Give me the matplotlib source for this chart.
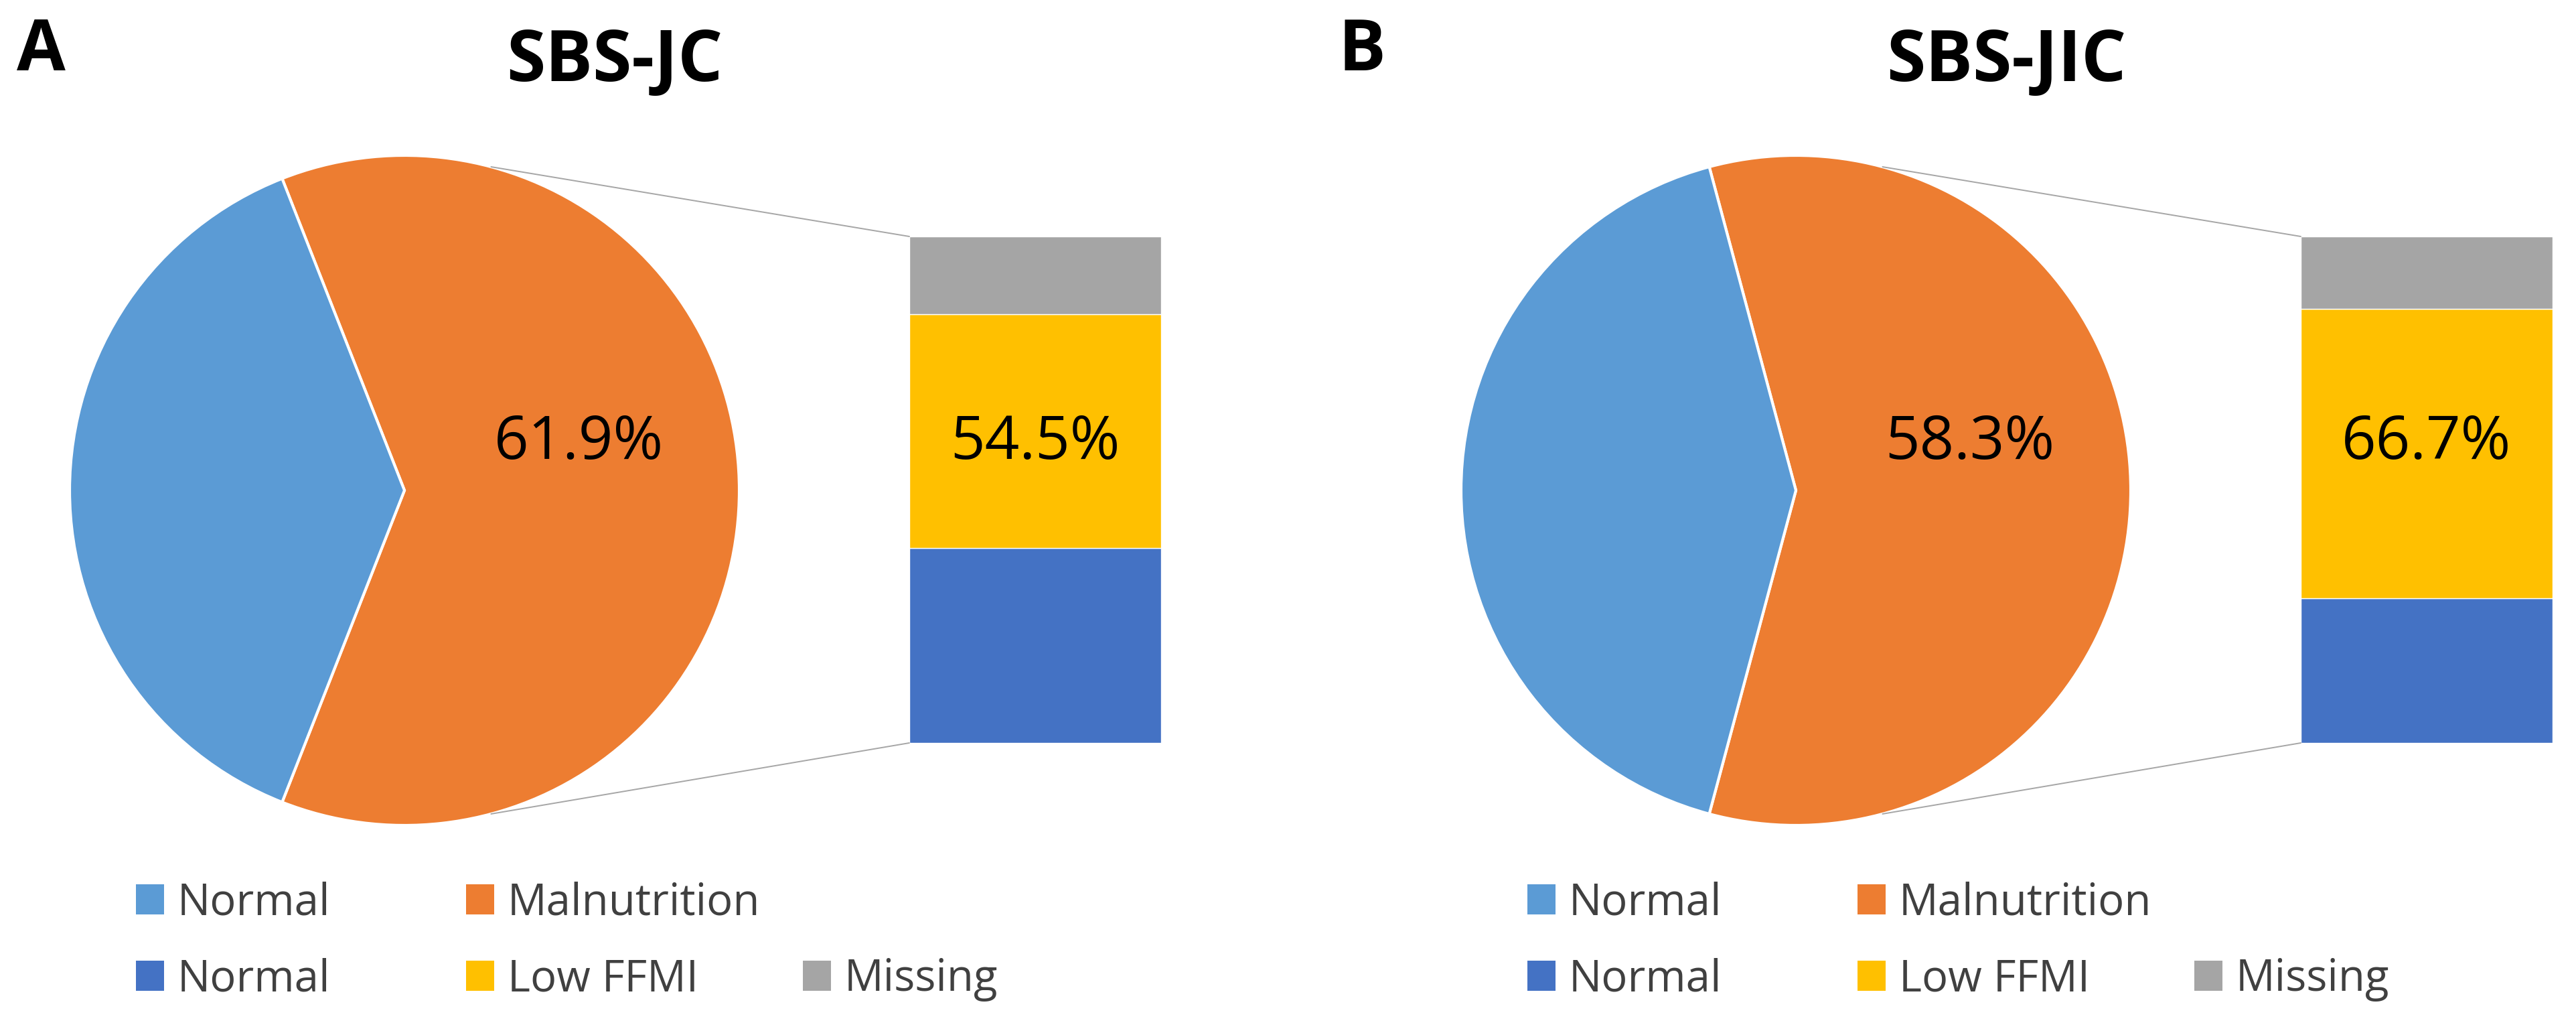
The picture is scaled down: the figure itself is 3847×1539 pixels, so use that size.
import numpy as np
import matplotlib
matplotlib.use("Agg")
import matplotlib.pyplot as plt
from matplotlib.patches import Patch, ConnectionPatch

plt.rcParams["font.family"] = ["Open Sans", "DejaVu Sans"]

# ---------- data ----------
panel_letters = ["A", "B"]
titles = ["SBS-JC", "SBS-JIC"]
pie_labels = ["Normal", "Malnutrition"]
pie_counts = [[8, 13], [5, 7]]              # normal, malnutrition
bar_labels = ["Normal", "Low FFMI", "Missing"]
bar_counts = [[5, 6, 2], [2, 4, 1]]          # within malnutrition
pie_pct_text = ["61.9%", "58.3%"]
bar_pct_text = ["54.5%", "66.7%"]

pie_colors = ["#5B9BD5", "#ED7D31"]
bar_colors = ["#4472C4", "#FFC000", "#A5A5A5"]
text_gray = "#404040"

W, H = 3848, 1539
dpi = 100
fig = plt.figure(figsize=(W / dpi, H / dpi), dpi=dpi)


def fx(px):
    return px / W


def fy(py):
    return 1 - py / H


# pixel layout per panel (left panel; right panel shifted)
panel_shift = [0, 2078]
bar_shift = [0, 2078]
pie_cx, pie_cy, pie_r = 604, 732, 500
bar_left, bar_right, bar_top, bar_bot = 1358, 1734, 353, 1109
leg_cols = [203, 696, 1199]
leg_rows = [1348, 1462]

for i in range(2):
    dx = panel_shift[i]
    # ---- pie ----
    ax_pie = fig.add_axes([fx(pie_cx - pie_r + dx), fy(pie_cy + pie_r),
                           fx(2 * pie_r), 2 * pie_r / H])
    normal, mal = pie_counts[i]
    total = normal + mal
    start = 180 * mal / total
    ax_pie.pie([mal, normal], colors=[pie_colors[1], pie_colors[0]],
               startangle=start, counterclock=False, radius=1,
               wedgeprops=dict(edgecolor="white", linewidth=3))
    ax_pie.set_xlim(-1, 1)
    ax_pie.set_ylim(-1, 1)
    ax_pie.set_aspect("equal")
    ax_pie.axis("off")
    ax_pie.text(0.52, 0.14, pie_pct_text[i], ha="center", va="center",
                fontsize=65, color="black")

    # ---- stacked bar ----
    bx = bar_shift[i]
    ax_bar = fig.add_axes([fx(bar_left + bx), fy(bar_bot),
                           fx(bar_right - bar_left), (bar_bot - bar_top) / H])
    vals = bar_counts[i]
    bottoms = np.concatenate([[0], np.cumsum(vals)[:-1]])
    ax_bar.bar(np.zeros(len(vals)), vals, bottom=bottoms, width=1,
               color=bar_colors, edgecolor="white", linewidth=1)
    ax_bar.set_xlim(-0.5, 0.5)
    ax_bar.set_ylim(0, sum(vals))
    ax_bar.axis("off")
    ax_bar.text(0.5, 0.14, bar_pct_text[i], ha="center", va="center",
                fontsize=65, color="black",
                transform=matplotlib.transforms.blended_transform_factory(
                    ax_bar.transAxes, ax_pie.transData))

    # ---- connector lines ----
    ang = np.deg2rad(75)
    for sgn, ybar in [(1, sum(vals)), (-1, 0)]:
        con = ConnectionPatch(xyA=(np.cos(ang), sgn * np.sin(ang)), coordsA=ax_pie.transData,
                              xyB=(-0.5, ybar), coordsB=ax_bar.transData,
                              color="#A6A6A6", linewidth=1.4)
        fig.add_artist(con)

    # ---- titles ----
    fig.text(fx(918 + dx), fy(93), titles[i], ha="center", va="center",
             fontsize=76, fontweight="bold")
    fig.text(fx([25, 1998][i]), fy(77), panel_letters[i], ha="left", va="center",
             fontsize=76, fontweight="bold")

    # ---- legends ----
    entries = [
        (leg_cols[0], leg_rows[0], pie_colors[0], pie_labels[0]),
        (leg_cols[1], leg_rows[0], pie_colors[1], pie_labels[1]),
        (leg_cols[0], leg_rows[1], bar_colors[0], bar_labels[0]),
        (leg_cols[1], leg_rows[1], bar_colors[1], bar_labels[1]),
        (leg_cols[2], leg_rows[1], bar_colors[2], bar_labels[2]),
    ]
    for lx, ly, col, lab in entries:
        leg = fig.legend(handles=[Patch(facecolor=col, edgecolor="none")], labels=[lab],
                         loc="center left", bbox_to_anchor=(fx(lx + dx), fy(ly)),
                         frameon=False, fontsize=47, labelcolor=text_gray,
                         handlelength=0.65, handleheight=0.68, handletextpad=0.3,
                         borderpad=0, borderaxespad=0)

fig.savefig("out.png", dpi=dpi, facecolor="white")
